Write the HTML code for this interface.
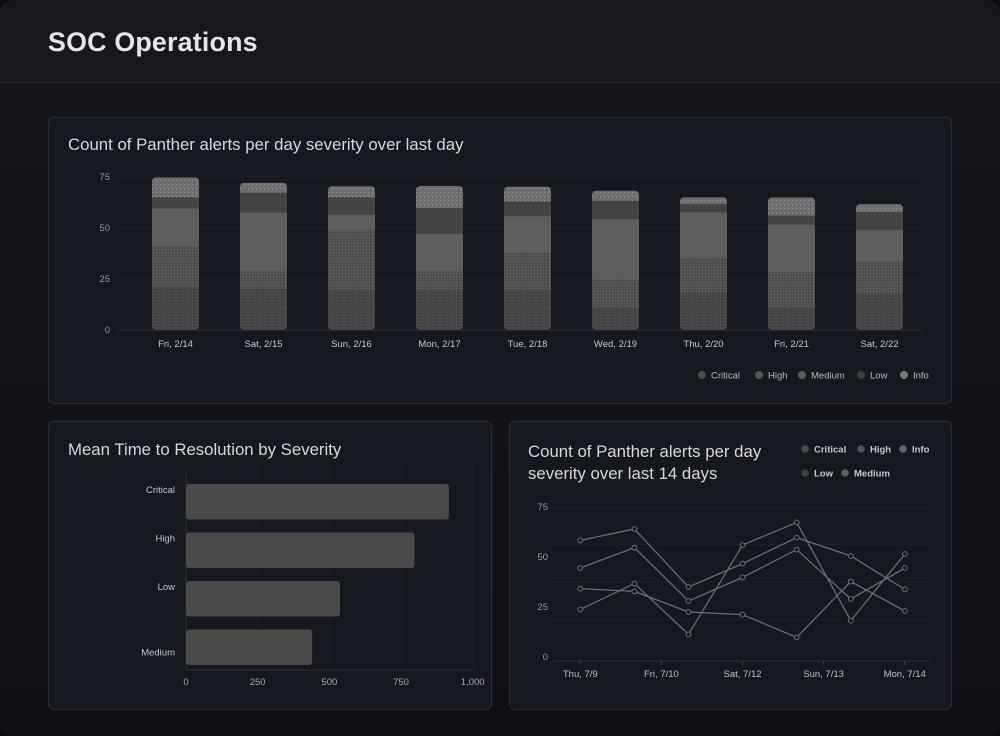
<!DOCTYPE html>
<html><head><meta charset="utf-8">
<style>
*{box-sizing:border-box;margin:0;padding:0}
body{width:1000px;height:736px;background:#0b0c10;font-family:"Liberation Sans",sans-serif;overflow:hidden;position:relative}
#frame{position:absolute;left:0;top:0;width:1000px;height:736px;border-radius:14px;background:linear-gradient(#15171d,#0f1016);overflow:hidden}
#hdr{position:absolute;left:0;top:0;width:1000px;height:83px;border-bottom:1px solid #2a2c33;background:#16181e}
#hdr h1{position:absolute;left:48px;top:27px;font-size:26.8px;font-weight:bold;color:#e6e6e8;letter-spacing:0.2px}
.card{position:absolute;background:#16181f;border:1px solid #2c2e35;border-radius:6px}
.title{position:absolute;color:#d8d8da;font-size:16.8px;line-height:22px}
svg{position:absolute;left:0;top:0}
text{font-family:"Liberation Sans",sans-serif}
</style></head><body>
<div id="frame">
<div id="hdr"><h1>SOC Operations</h1></div>
<div class="card" style="left:48px;top:117px;width:904px;height:287px">
 <div class="title" style="left:19px;top:16px">Count of Panther alerts per day severity over last day</div>
</div>
<div class="card" style="left:48px;top:421px;width:444px;height:289px">
 <div class="title" style="left:19px;top:17px">Mean Time to Resolution by Severity</div>
</div>
<div class="card" style="left:509px;top:421px;width:443px;height:289px">
 <div class="title" style="left:18px;top:19px">Count of Panther alerts per day<br>severity over last 14 days</div>
</div>
<svg id="chart" width="1000" height="736">
<defs>
<pattern id="pCrit" width="3" height="3" patternUnits="userSpaceOnUse"><rect width="3" height="3" fill="#454545"/><rect width="1" height="1" fill="#555"/></pattern>
<pattern id="pHigh" width="3" height="3" patternUnits="userSpaceOnUse"><rect width="3" height="3" fill="#4f4f4f"/><rect width="1" height="1" fill="#6a6a6a"/></pattern>
<pattern id="pInfo" width="4" height="4" patternUnits="userSpaceOnUse"><rect width="4" height="4" fill="#6e6e6e"/><rect width="1" height="1" fill="#9a9a9a"/></pattern>
</defs>
</svg>
</div>
<script>
// ---- stacked bar data ----
const days=["Fri, 2/14","Sat, 2/15","Sun, 2/16","Mon, 2/17","Tue, 2/18","Wed, 2/19","Thu, 2/20","Fri, 2/21","Sat, 2/22"];
const critical=[21.2,20.4,19.9,19.9,19.9,11.1,18.5,11.1,18];
const high=[20,8.5,29.4,9,18.5,13.9,17.2,17.6,15.8];
const medium=[18.6,28.9,7.4,18.5,17.6,29.6,22.2,23.2,15.5];
const low=[5.2,9.5,8.3,12.3,6.9,8.7,3.9,4.1,8.5];
const info=[9.8,4.9,5.5,10.9,7.4,5,3.3,9,3.9];
const barTicks=[0,25,50,75];
// ---- mttr data ----
const sevCats=["Critical","High","Low","Medium"];
const mttr=[917,797,537,440];
const mttrTicks=[0,250,500,750,1000];
const mttrTickLabels=["0","250","500","750","1,000"];
// ---- line data ----
const lineDates=["Thu, 7/9","Fri, 7/10","Sat, 7/12","Sun, 7/13","Mon, 7/14"];
const lineA=[58.3,64,35,46.7,59.7,50.5,33.8];
const lineB=[44.5,54.7,28,39.8,53.7,29,44.5];
const lineC=[34.2,32.8,22.5,21.2,9.8,37.7,23];
const lineD=[23.8,36.7,11.3,56,67.3,18.2,51.5];
const lineTicks=[0,25,50,75];

const svg=document.getElementById('chart');
const NS="http://www.w3.org/2000/svg";
function mk(tag,attrs,parent){const e=document.createElementNS(NS,tag);for(const k in attrs)e.setAttribute(k,attrs[k]);(parent||svg).appendChild(e);return e;}

// stacked bar
const by=v=>330-v*(153/75);
const bx=i=>175.5+i*88;
barTicks.forEach(t=>{
 const l=mk('line',{x1:118,x2:922,y1:by(t),y2:by(t),stroke:t===0?'#30323a':'#262830','stroke-dasharray':t===0?'':'2,2'});
 
 
 const tx=mk('text',{x:110,y:by(t)+3,'text-anchor':'end','font-size':9.5,fill:'#9a9a9e'});tx.textContent=t;
 
 
});
const series=[[critical,'url(#pCrit)'],[high,'url(#pHigh)'],[medium,'#5e5e5e'],[low,'#434343'],[info,'url(#pInfo)']];
days.forEach((d,i)=>{
 let acc=0;
 const g=mk('g',{});
 
 
 const clip=mk('clipPath',{id:'c'+i},svg);
 let tot=critical[i]+high[i]+medium[i]+low[i]+info[i];
 mk('rect',{x:bx(i)-23.5,y:by(tot),width:47,height:by(0)-by(tot),rx:4},clip);
 g.setAttribute('clip-path','url(#c'+i+')');
 series.forEach(([arr,fill],s)=>{
  const r=mk('rect',{x:bx(i)-23.5,y:by(acc+arr[i]),width:47,height:by(acc)-by(acc+arr[i])+(s<4?0.5:0),fill:fill},g);
  
  
  acc+=arr[i];
 });
 const t=mk('text',{x:bx(i),y:347,'text-anchor':'middle','font-size':9.5,fill:'#c8c8cc'});t.textContent=d;
 
 
});
const leg=[["Critical",'#4a4a4a',702],["High",'#555',759],["Medium",'#5e5e5e',802],["Low",'#3e3e3e',861],["Info",'#7a7a7a',904]];
leg.forEach(([n,c,x])=>{
 const g=mk('g',{});
 
 
 mk('circle',{cx:x,cy:375,r:4,fill:c},g);
 const t=mk('text',{x:x+9,y:378.5,'font-size':9.5,fill:'#bdbdc1'},g);t.textContent=n;
});

// mttr
const hx=v=>186+v*(286.7/1000);
const hy=i=>484+i*48.5;
mttrTicks.forEach((t,i)=>{
 if(i>0){const l=mk('line',{x1:hx(t),x2:hx(t),y1:465,y2:670,stroke:'#262830','stroke-dasharray':'2,2'});
 
 }
 const tx=mk('text',{x:hx(t),y:685,'text-anchor':'middle','font-size':9.5,fill:'#a8a8ac'});tx.textContent=mttrTickLabels[i];
 
 
});
mk('line',{x1:186,x2:472,y1:670,y2:670,stroke:'#30323a'});
mk('line',{x1:186,x2:186,y1:473,y2:670,stroke:'#30323a'});
sevCats.forEach((c,i)=>{
 const r=mk('rect',{x:186,y:hy(i),width:hx(mttr[i])-186,height:35.5,rx:3,fill:'#4a4a4a'});
 
 
 const t=mk('text',{x:175,y:hy(i)+(i===3?26:9),'text-anchor':'end','font-size':9.5,fill:'#c8c8cc'});t.textContent=c;
 
 
});

// line chart
const ly=v=>657-v*2;
const lx=i=>580.3+i*54.1;
[0,1,2,3,4].forEach(k=>{
 if(k>0){const l=mk('line',{x1:553,x2:930,y1:507+(k-1)*37.5,y2:507+(k-1)*37.5,stroke:'#262830','stroke-dasharray':'2,2'});
 
 }
});
mk('line',{x1:553,x2:930,y1:661,y2:661,stroke:'#30323a'});
lineTicks.forEach(t=>{
 const tx=mk('text',{x:548,y:ly(t)+3,'text-anchor':'end','font-size':9.5,fill:'#9a9a9e'});tx.textContent=t;
 
 
});
lineDates.forEach((d,i)=>{
 const x=580.3+i*81.1;
 mk('line',{x1:x,x2:x,y1:661,y2:665,stroke:'#40424a'});
 const t=mk('text',{x:x,y:677,'text-anchor':'middle','font-size':9.5,fill:'#c0c0c4'});t.textContent=d;
 
 
});
[lineA,lineB,lineC,lineD].forEach((arr,s)=>{
 const p=mk('polyline',{points:arr.map((v,i)=>lx(i)+','+ly(v)).join(' '),fill:'none',stroke:'#6c6c70','stroke-width':1.3});
 
 
 arr.forEach((v,i)=>{
  const c=mk('circle',{cx:lx(i),cy:ly(v),r:2.4,fill:'#16181f',stroke:'#707074','stroke-width':1});
  
  
 });
});
const leg2=[["Critical",'#4a4a4a',805,449],["High",'#555',861,449],["Info",'#666',903,449],["Low",'#3e3e3e',805,473],["Medium",'#5e5e5e',845,473]];
leg2.forEach(([n,c,x,y])=>{
 const g=mk('g',{});
 
 
 mk('circle',{cx:x,cy:y,r:3.8,fill:c},g);
 const t=mk('text',{x:x+9,y:y+3.5,'font-size':9.5,'font-weight':'bold',fill:'#c8c8cc'},g);t.textContent=n;
});
</script>
</body></html>
